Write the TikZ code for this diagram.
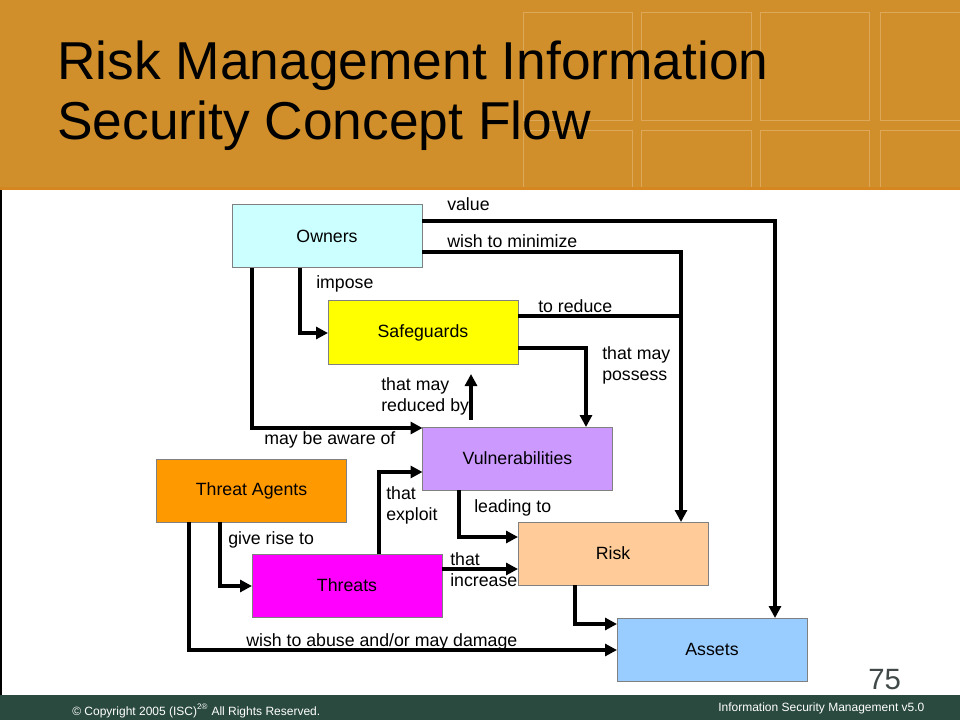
\documentclass[tikz,border=0pt]{standalone}
\usepackage{fontspec}
\setmainfont{Liberation Sans}
\usetikzlibrary{arrows.meta,calc}
\definecolor{band}{HTML}{D08F2B}
\definecolor{bandline}{HTML}{DEA85A}
\definecolor{bandedge}{HTML}{D6861E}
\definecolor{foot}{HTML}{2A4A3F}
\definecolor{boxline}{HTML}{808080}
\definecolor{cOwners}{HTML}{CCFFFF}
\definecolor{cSafe}{HTML}{FFFF00}
\definecolor{cVuln}{HTML}{CC99FF}
\definecolor{cAgents}{HTML}{FF9900}
\definecolor{cRisk}{HTML}{FFCC99}
\definecolor{cThreats}{HTML}{FF00FF}
\definecolor{cAssets}{HTML}{99CCFF}
\definecolor{pagenum}{HTML}{404848}
\begin{document}
\begin{tikzpicture}[x=0.75pt,y=-0.75pt,
  box/.style={draw=boxline, line width=0.75pt, minimum width=142.5pt, minimum height=47.25pt,
    inner sep=0pt, outer sep=0pt, font=\fontsize{13.3}{16}\selectfont},
  conn/.style={line width=2.6pt, -{Triangle[length=9pt,width=9pt]}},
  plainline/.style={line width=2.6pt},
  lbl/.style={inner sep=0pt, font=\fontsize{13.3}{15.75}\selectfont, align=left},
  titletext/.style={inner sep=0pt, anchor=base west, font=\fontsize{40}{45}\selectfont},
  foottext/.style={inner sep=0pt, anchor=base west, text=white, font=\fontsize{9}{11}\selectfont}]
\useasboundingbox (0,0) rectangle (960,720);
\fill[white] (0,0) rectangle (960,720);
% header band
\fill[band] (0,0) rectangle (960,190);
\begin{scope}
\clip (0,0) rectangle (960,190);
\foreach \xa/\xb in {523/632,641/751,760/869,880/990}{
  \draw[bandline, line width=0.75pt] (\xa,13) rectangle (\xb,121);
  \draw[bandline, line width=0.75pt] (\xa,131) rectangle (\xb,200);
}
\end{scope}
\fill[bandedge] (0,187.5) rectangle (960,190);
\node[titletext] (t1) at (57,80) {Risk Management Information};
\node[titletext] (t2) at (57,140) {Security Concept Flow};
% left edge line
\fill[black] (0,190) rectangle (1.5,695);
% footer
\fill[foot] (0,695) rectangle (960,720);
\node[foottext] (copy) at (72,715) {© Copyright 2005 (ISC)\textsuperscript{2®} All Rights Reserved.};
\node[foottext] (ver) at (718,711) {Information Security Management v5.0};
\node[inner sep=0pt, anchor=base west, text=pagenum, font=\fontsize{22}{26}\selectfont] (pg) at (868,689) {75};

% boxes
\node[box, fill=cOwners] (owners) at (327,236.5) {Owners};
\node[box, fill=cSafe] (safe) at (423,332.5) {Safeguards};
\node[box, fill=cVuln] (vuln) at (517.5,458.5) {Vulnerabilities};
\node[box, fill=cAgents] (agents) at (251.5,490.5) {Threat Agents};
\node[box, fill=cRisk] (risk) at (613,553.5) {Risk};
\node[box, fill=cThreats] (threats) at (347,585.5) {Threats};
\node[box, fill=cAssets] (assets) at (712,649.5) {Assets};
\coordinate (join) at (681,316);

% connectors
\draw[conn] (owners.east |- 0,221) -| (assets.north -| 775,0);
\draw[conn] (owners.east |- 0,252) -| (risk.north -| 681,0);
\draw[plainline] (safe.east |- 0,316) -- (join);
\draw[conn] (safe.east |- 0,348) -| (vuln.north -| 586,0);
\draw[conn, shorten <=5.25pt, shorten >=7.5pt] (vuln.north -| 471,0) -- (safe.south -| 471,0);
\draw[conn] (owners.south -| 252,0) |- (vuln.west |- 0,428);
\draw[conn] (owners.south -| 300,0) |- (safe.west |- 0,333);
\draw[conn] (agents.south -| 220,0) |- (threats.west |- 0,586);
\draw[conn] (agents.south -| 189,0) |- (assets.west |- 0,650);
\draw[conn] (threats.north -| 379,0) |- (vuln.west |- 0,472);
\draw[conn] (threats.east |- 0,569) -- (risk.west |- 0,569);
\draw[conn] (vuln.south -| 459,0) |- (risk.west |- 0,537);
\draw[conn] (risk.south -| 575,0) |- (assets.west |- 0,624);

% labels
\node[lbl, anchor=base west] (lvalue) at (447,211) {value};
\node[lbl, anchor=base west] (lmin) at (447,248) {wish to minimize};
\node[lbl, anchor=base west] (limpose) at (316,289) {impose};
\node[lbl, anchor=base west] (lreduce) at (538,312) {to reduce};
\node[lbl, anchor=north west] (lposs) at (602,346) {that may\\possess};
\node[lbl, anchor=north west] (lredby) at (381,377) {that may\\reduced by};
\node[lbl, anchor=base west] (laware) at (264,444) {may be aware of};
\node[lbl, anchor=north west] (lexploit) at (386,486) {that\\exploit};
\node[lbl, anchor=base west] (llead) at (474,512) {leading to};
\node[lbl, anchor=base west] (lrise) at (228,544) {give rise to};
\node[lbl, anchor=north west] (lincr) at (450,552) {that\\increase};
\node[lbl, anchor=base west] (labuse) at (246,646) {wish to abuse and/or may damage};
\end{tikzpicture}
\end{document}
